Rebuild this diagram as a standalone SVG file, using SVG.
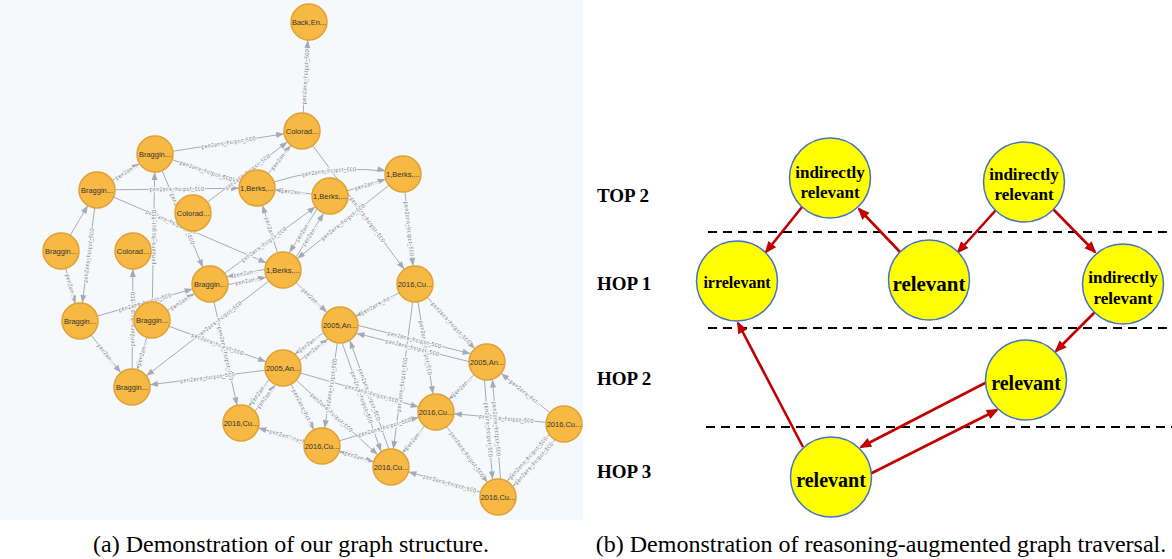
<svg xmlns="http://www.w3.org/2000/svg" xmlns:xlink="http://www.w3.org/1999/xlink" width="1172" height="559" viewBox="0 0 1172 559">
<style>
.bg{fill:#f6f9fb}
.gn circle{fill:#f7b944;stroke:#dfa135;stroke-width:1.5}
.gn text{font-family:"Liberation Sans",Arial,sans-serif;font-size:7.5px;fill:#333;text-anchor:middle}
.ge path{fill:none;stroke:#a5abb6;stroke-width:1}
.ge text{font-family:"Liberation Sans",Arial,sans-serif;font-size:5.8px;fill:#7a7a7a;stroke:#f6f9fb;stroke-width:2.2px;paint-order:stroke;stroke-linejoin:round}
.rn ellipse{fill:#ffff00;stroke:#4472c4;stroke-width:1.5}
.rn text{font-family:"Liberation Serif","Times New Roman",serif;font-weight:bold;fill:#000;text-anchor:middle}
.re path{fill:none;stroke:#c00000;stroke-width:2.6}
.dash{stroke:#000;stroke-width:2;stroke-dasharray:9,6}
.lvl{font-family:"Liberation Serif","Times New Roman",serif;font-weight:bold;font-size:19px;fill:#000}
.cap{font-family:"Liberation Serif","Times New Roman",serif;font-size:24px;fill:#000;text-anchor:middle}
</style>
<defs>
<marker id="ga" markerUnits="userSpaceOnUse" markerWidth="40" markerHeight="10" refX="26" refY="3" orient="auto-start-reverse" overflow="visible"><path d="M0,0 L8,3 L0,6 z" fill="#a5abb6"/></marker>
<marker id="ra" markerUnits="userSpaceOnUse" markerWidth="14" markerHeight="10" refX="10" refY="5" orient="auto" overflow="visible"><path d="M0,0 L12,5 L0,10 z" fill="#c00000"/></marker>
</defs>
<rect class="bg" x="0" y="0" width="583" height="520"/>
<g id="graph-edges" class="ge">
<path id="e1" d="M302,131 L309,22" marker-end="url(#ga)"/>
<path id="e2" d="M155,154 L302,131" marker-end="url(#ga)"/>
<path id="e3" d="M257,188 L302,131" marker-end="url(#ga)"/>
<path id="e4" d="M193,213 L302,131" marker-end="url(#ga)"/>
<path id="e5" d="M302,131 L415,284" marker-end="url(#ga)"/>
<path id="e6" d="M257,188 Q330,160 403,174" marker-end="url(#ga)"/>
<path id="e7" d="M257,188 L330,196" marker-start="url(#ga)"/>
<path id="e8" d="M330,196 L403,174" marker-end="url(#ga)"/>
<path id="e9" d="M403,174 L415,284" marker-end="url(#ga)"/>
<path id="e10" d="M283,270 L403,174" marker-start="url(#ga)"/>
<path id="e11a" d="M286.4,272.1 L333.4,198.1" marker-end="url(#ga)"/>
<path id="e11b" d="M279.6,267.9 L326.6,193.9" marker-start="url(#ga)"/>
<path id="e12" d="M257,188 L283,270" marker-start="url(#ga)"/>
<path id="e13" d="M97,190 L257,188" marker-end="url(#ga)"/>
<path id="e14" d="M97,190 L155,154" marker-end="url(#ga)"/>
<path id="e15" d="M155,154 L257,188" marker-end="url(#ga)"/>
<path id="e16" d="M155,154 L210,284" marker-end="url(#ga)"/>
<path id="e17" d="M97,190 L283,270" marker-end="url(#ga)"/>
<path id="e18" d="M80,321 L97,190" marker-start="url(#ga)"/>
<path id="e19" d="M61,251 L80,321" marker-end="url(#ga)"/>
<path id="e20" d="M132,387 L133,251" marker-end="url(#ga)"/>
<path id="e21" d="M132,387 L152,320" marker-start="url(#ga)"/>
<path id="e22" d="M80,321 L210,284" marker-end="url(#ga)"/>
<path id="e23" d="M80,321 L132,387" marker-end="url(#ga)"/>
<path id="e24a" d="M210.8,287.9 L283.8,273.9" marker-end="url(#ga)"/>
<path id="e24b" d="M209.2,280.1 L282.2,266.1" marker-start="url(#ga)"/>
<path id="e25" d="M283,270 L340,325" marker-end="url(#ga)"/>
<path id="e26" d="M132,387 L283,270" marker-start="url(#ga)"/>
<path id="e27" d="M152,320 L283,368" marker-end="url(#ga)"/>
<path id="e28" d="M210,284 L241,423" marker-end="url(#ga)"/>
<path id="e29" d="M132,387 L283,368" marker-start="url(#ga)"/>
<path id="e30" d="M340,325 L415,284" marker-start="url(#ga)"/>
<path id="e31" d="M415,284 L487,362" marker-end="url(#ga)"/>
<path id="e32" d="M391,467 L415,284" marker-start="url(#ga)"/>
<path id="e33" d="M415,284 L436,412" marker-end="url(#ga)"/>
<path id="e34a" d="M339,328.9 L486,365.9" marker-start="url(#ga)"/>
<path id="e34b" d="M341,321.1 L488,358.1" marker-end="url(#ga)"/>
<path id="e35a" d="M285.4,371.2 L342.4,328.2" marker-end="url(#ga)"/>
<path id="e35b" d="M280.6,364.8 L337.6,321.8" marker-start="url(#ga)"/>
<path id="e36" d="M322,446 L340,325" marker-start="url(#ga)"/>
<path id="e37a" d="M336.2,326.4 L387.2,468.4" marker-end="url(#ga)"/>
<path id="e37b" d="M343.8,323.6 L394.8,465.6" marker-start="url(#ga)"/>
<path id="e39a" d="M244.2,425.4 L286.2,370.4" marker-end="url(#ga)"/>
<path id="e39b" d="M237.8,420.6 L279.8,365.6" marker-start="url(#ga)"/>
<path id="e40" d="M283,368 L322,446" marker-end="url(#ga)"/>
<path id="e41" d="M283,368 L436,412" marker-end="url(#ga)"/>
<path id="e42" d="M283,368 L391,467" marker-end="url(#ga)"/>
<path id="e43" d="M241,423 L391,467" marker-end="url(#ga)"/>
<path id="e44" d="M241,423 L322,446" marker-start="url(#ga)"/>
<path id="e45" d="M322,446 L436,412" marker-end="url(#ga)"/>
<path id="e46" d="M322,446 L391,467" marker-start="url(#ga)"/>
<path id="e47" d="M391,467 L436,412" marker-start="url(#ga)"/>
<path id="e48" d="M436,412 L487,362" marker-start="url(#ga)"/>
<path id="e49" d="M436,412 L564,424" marker-start="url(#ga)"/>
<path id="e50" d="M487,362 L564,424" marker-start="url(#ga)"/>
<path id="e51a" d="M483,362.3 L494,497.3" marker-end="url(#ga)"/>
<path id="e51b" d="M491,361.7 L502,496.7" marker-start="url(#ga)"/>
<path id="e52" d="M436,412 L498,497" marker-end="url(#ga)"/>
<path id="e53a" d="M500.9,499.7 L566.9,426.7" marker-start="url(#ga)"/>
<path id="e53b" d="M495.1,494.3 L561.1,421.3" marker-start="url(#ga)"/>
<path id="e54" d="M391,467 L498,497" marker-start="url(#ga)"/>
<path id="e55" d="M61,251 L97,190" marker-end="url(#ga)"/>
<path id="e56" d="M152,320 L155,154" marker-end="url(#ga)"/>
<path id="e57" d="M152,320 L210,284" marker-end="url(#ga)"/>
<path id="e58" d="M210,284 L330,196" marker-end="url(#ga)"/>
<text dy="2"><textPath href="#e1" startOffset="50%" text-anchor="middle">pen2ans_hotpot_500</textPath></text>
<text dy="2"><textPath href="#e2" startOffset="50%" text-anchor="middle">pen2ans_hotpot_500</textPath></text>
<text dy="2"><textPath href="#e3" startOffset="50%" text-anchor="middle">pen2an...</textPath></text>
<text dy="2"><textPath href="#e4" startOffset="50%" text-anchor="middle">pen2ans_hotpot_500</textPath></text>
<text dy="2"><textPath href="#e5" startOffset="58%" text-anchor="middle">pen2ans_hotpot_500</textPath></text>
<text dy="2"><textPath href="#e6" startOffset="50%" text-anchor="middle">pen2ans_hotpot_500</textPath></text>
<text dy="2"><textPath href="#e7" startOffset="50%" text-anchor="middle">pen2an...</textPath></text>
<text dy="2"><textPath href="#e8" startOffset="50%" text-anchor="middle">pen2an...</textPath></text>
<text dy="2"><textPath href="#e9" startOffset="50%" text-anchor="middle">pen2ans_hotpot_500</textPath></text>
<text dy="2"><textPath href="#e10" startOffset="50%" text-anchor="middle">pen2ans_hotpot_500</textPath></text>
<text dy="2"><textPath href="#e11a" startOffset="50%" text-anchor="middle">pen2an...</textPath></text>
<text dy="2"><textPath href="#e11b" startOffset="50%" text-anchor="middle">pen2an...</textPath></text>
<text dy="2"><textPath href="#e12" startOffset="50%" text-anchor="middle">pen2an...</textPath></text>
<text dy="2"><textPath href="#e13" startOffset="50%" text-anchor="middle">pen2ans_hotpot_500</textPath></text>
<text dy="2"><textPath href="#e14" startOffset="50%" text-anchor="middle">pen2an...</textPath></text>
<text dy="2"><textPath href="#e15" startOffset="50%" text-anchor="middle">pen2ans_hotpot_500</textPath></text>
<text dy="2"><textPath href="#e16" startOffset="50%" text-anchor="middle">pen2ans_hotpot_500</textPath></text>
<text dy="2"><textPath href="#e17" startOffset="40%" text-anchor="middle">pen2ans_hotpot_500</textPath></text>
<text dy="2"><textPath href="#e18" startOffset="50%" text-anchor="middle">pen2ans_hotpot_500</textPath></text>
<text dy="2"><textPath href="#e19" startOffset="50%" text-anchor="middle">pen2an...</textPath></text>
<text dy="2"><textPath href="#e20" startOffset="50%" text-anchor="middle">pen2ans_hotpot_500</textPath></text>
<text dy="2"><textPath href="#e21" startOffset="50%" text-anchor="middle">pen2an...</textPath></text>
<text dy="2"><textPath href="#e22" startOffset="50%" text-anchor="middle">pen2ans_hotpot_500</textPath></text>
<text dy="2"><textPath href="#e23" startOffset="50%" text-anchor="middle">pen2an...</textPath></text>
<text dy="2"><textPath href="#e24a" startOffset="50%" text-anchor="middle">pen2an...</textPath></text>
<text dy="2"><textPath href="#e24b" startOffset="50%" text-anchor="middle">pen2an...</textPath></text>
<text dy="2"><textPath href="#e25" startOffset="50%" text-anchor="middle">pen2an...</textPath></text>
<text dy="2"><textPath href="#e26" startOffset="58%" text-anchor="middle">pen2ans_hotpot_500</textPath></text>
<text dy="2"><textPath href="#e27" startOffset="50%" text-anchor="middle">pen2ans_hotpot_500</textPath></text>
<text dy="2"><textPath href="#e28" startOffset="50%" text-anchor="middle">pen2ans_hotpot_500</textPath></text>
<text dy="2"><textPath href="#e29" startOffset="50%" text-anchor="middle">pen2ans_hotpot_500</textPath></text>
<text dy="2"><textPath href="#e30" startOffset="50%" text-anchor="middle">pen2ans_ho...</textPath></text>
<text dy="2"><textPath href="#e31" startOffset="50%" text-anchor="middle">pen2ans_hotpot_500</textPath></text>
<text dy="2"><textPath href="#e32" startOffset="45%" text-anchor="middle">pen2ans_hotpot_500</textPath></text>
<text dy="2"><textPath href="#e33" startOffset="50%" text-anchor="middle">pen2ans_hotpot_500</textPath></text>
<text dy="2"><textPath href="#e34a" startOffset="50%" text-anchor="middle">pen2ans_hotpot_500</textPath></text>
<text dy="2"><textPath href="#e34b" startOffset="50%" text-anchor="middle">pen2ans_hotpot_500</textPath></text>
<text dy="2"><textPath href="#e35a" startOffset="50%" text-anchor="middle">pen2an...</textPath></text>
<text dy="2"><textPath href="#e35b" startOffset="50%" text-anchor="middle">pen2an...</textPath></text>
<text dy="2"><textPath href="#e36" startOffset="50%" text-anchor="middle">pen2ans_hotpot_500</textPath></text>
<text dy="2"><textPath href="#e37a" startOffset="50%" text-anchor="middle">pen2ans_hotpot_500</textPath></text>
<text dy="2"><textPath href="#e37b" startOffset="50%" text-anchor="middle">pen2ans_hotpot_500</textPath></text>
<text dy="2"><textPath href="#e39a" startOffset="50%" text-anchor="middle">pen2an...</textPath></text>
<text dy="2"><textPath href="#e39b" startOffset="50%" text-anchor="middle">pen2an...</textPath></text>
<text dy="2"><textPath href="#e40" startOffset="50%" text-anchor="middle">pen2ans_hot...</textPath></text>
<text dy="2"><textPath href="#e41" startOffset="58%" text-anchor="middle">pen2ans_hotpot_500</textPath></text>
<text dy="2"><textPath href="#e42" startOffset="45%" text-anchor="middle">pen2ans_hotpot_500</textPath></text>
<text dy="2"><textPath href="#e43" startOffset="42%" text-anchor="middle">pen2ans_hotpot_500</textPath></text>
<text dy="2"><textPath href="#e44" startOffset="50%" text-anchor="middle">pen2an...</textPath></text>
<text dy="2"><textPath href="#e45" startOffset="55%" text-anchor="middle">pen2ans_hotpot_500</textPath></text>
<text dy="2"><textPath href="#e46" startOffset="50%" text-anchor="middle">pen2an...</textPath></text>
<text dy="2"><textPath href="#e47" startOffset="50%" text-anchor="middle">pen2an...</textPath></text>
<text dy="2"><textPath href="#e48" startOffset="50%" text-anchor="middle">pen2an...</textPath></text>
<text dy="2"><textPath href="#e49" startOffset="55%" text-anchor="middle">pen2ans_hotpot_500</textPath></text>
<text dy="2"><textPath href="#e50" startOffset="50%" text-anchor="middle">pen2ans_hot...</textPath></text>
<text dy="2"><textPath href="#e51a" startOffset="50%" text-anchor="middle">pen2ans_hotpot_500</textPath></text>
<text dy="2"><textPath href="#e51b" startOffset="50%" text-anchor="middle">pen2ans_hotpot_500</textPath></text>
<text dy="2"><textPath href="#e52" startOffset="50%" text-anchor="middle">pen2ans_hotpot_500</textPath></text>
<text dy="2"><textPath href="#e53a" startOffset="50%" text-anchor="middle">pen2ans_hotpot_500</textPath></text>
<text dy="2"><textPath href="#e53b" startOffset="50%" text-anchor="middle">pen2ans_hotpot_500</textPath></text>
<text dy="2"><textPath href="#e54" startOffset="55%" text-anchor="middle">pen2ans_hotpot_500</textPath></text>
<text dy="2"><textPath href="#e56" startOffset="50%" text-anchor="middle">pen2ans_hotpot_500</textPath></text>
<text dy="2"><textPath href="#e57" startOffset="50%" text-anchor="middle">pen2an...</textPath></text>
<text dy="2"><textPath href="#e58" startOffset="45%" text-anchor="middle">pen2ans_hotpot_500</textPath></text>
</g>
<g class="gn">
<g id="n1"><circle cx="309" cy="22" r="18"/><text x="309" y="25">Back,En...</text></g>
<g id="n2"><circle cx="302" cy="131" r="18"/><text x="302" y="134">Colorad...</text></g>
<g id="n3"><circle cx="155" cy="154" r="18"/><text x="155" y="157">Braggin...</text></g>
<g id="n4"><circle cx="97" cy="190" r="18"/><text x="97" y="193">Braggin...</text></g>
<g id="n5"><circle cx="257" cy="188" r="18"/><text x="257" y="191">1,Berks,...</text></g>
<g id="n6"><circle cx="330" cy="196" r="18"/><text x="330" y="199">1,Berks,...</text></g>
<g id="n7"><circle cx="403" cy="174" r="18"/><text x="403" y="177">1,Berks,...</text></g>
<g id="n8"><circle cx="193" cy="213" r="18"/><text x="193" y="216">Colorad...</text></g>
<g id="n9"><circle cx="61" cy="251" r="18"/><text x="61" y="254">Braggin...</text></g>
<g id="n10"><circle cx="133" cy="251" r="18"/><text x="133" y="254">Colorad...</text></g>
<g id="n11"><circle cx="210" cy="284" r="18"/><text x="210" y="287">Braggin...</text></g>
<g id="n12"><circle cx="283" cy="270" r="18"/><text x="283" y="273">1,Berks,...</text></g>
<g id="n13"><circle cx="415" cy="284" r="18"/><text x="415" y="287">2016,Cu...</text></g>
<g id="n14"><circle cx="80" cy="321" r="18"/><text x="80" y="324">Braggin...</text></g>
<g id="n15"><circle cx="152" cy="320" r="18"/><text x="152" y="323">Braggin...</text></g>
<g id="n16"><circle cx="340" cy="325" r="18"/><text x="340" y="328">2005,An...</text></g>
<g id="n17"><circle cx="283" cy="368" r="18"/><text x="283" y="371">2005,An...</text></g>
<g id="n18"><circle cx="487" cy="362" r="18"/><text x="487" y="365">2005,An...</text></g>
<g id="n19"><circle cx="132" cy="387" r="18"/><text x="132" y="390">Braggin...</text></g>
<g id="n20"><circle cx="241" cy="423" r="18"/><text x="241" y="426">2016,Cu...</text></g>
<g id="n21"><circle cx="436" cy="412" r="18"/><text x="436" y="415">2016,Cu...</text></g>
<g id="n22"><circle cx="322" cy="446" r="18"/><text x="322" y="449">2016,Cu...</text></g>
<g id="n23"><circle cx="564" cy="424" r="18"/><text x="564" y="427">2016,Cu...</text></g>
<g id="n24"><circle cx="391" cy="467" r="18"/><text x="391" y="470">2016,Cu...</text></g>
<g id="n25"><circle cx="498" cy="497" r="18"/><text x="498" y="500">2016,Cu...</text></g>
</g>
<g id="levels">
<line class="dash" x1="708" y1="232" x2="1172" y2="232"/>
<line class="dash" x1="708" y1="328" x2="1172" y2="328"/>
<line class="dash" x1="706" y1="427" x2="1172" y2="427"/>
<text class="lvl" x="597" y="202">TOP 2</text>
<text class="lvl" x="597" y="290">HOP 1</text>
<text class="lvl" x="597" y="385">HOP 2</text>
<text class="lvl" x="597" y="478">HOP 3</text>
</g>
<g id="traversal-edges" class="re">
<path d="M802,207 L766,252" marker-end="url(#ra)"/>
<path d="M900,252 L859,209" marker-end="url(#ra)"/>
<path d="M996,210 L958,252" marker-end="url(#ra)"/>
<path d="M1053,209 L1095,252" marker-end="url(#ra)"/>
<path d="M1095,312 L1056,351" marker-end="url(#ra)"/>
<path d="M989,381 L861,447" marker-end="url(#ra)"/>
<path d="M870,474 L997,410" marker-end="url(#ra)"/>
<path d="M803,447 L738,323" marker-end="url(#ra)"/>
</g>
<g class="rn">
<g id="r1"><ellipse cx="830" cy="178" rx="40.5" ry="40"/><text x="830" y="178" font-size="17">indirectly</text><text x="830" y="198" font-size="17">relevant</text></g>
<g id="r2"><ellipse cx="1024" cy="182" rx="40.5" ry="40"/><text x="1024" y="180" font-size="17">indirectly</text><text x="1024" y="200" font-size="17">relevant</text></g>
<g id="r3"><ellipse cx="737" cy="281" rx="40.5" ry="40"/><text x="737" y="288" font-size="16">irrelevant</text></g>
<g id="r4"><ellipse cx="929" cy="280" rx="40.5" ry="40"/><text x="929" y="291" font-size="21">relevant</text></g>
<g id="r5"><ellipse cx="1123" cy="284" rx="40.5" ry="40"/><text x="1123" y="283" font-size="17">indirectly</text><text x="1123" y="304" font-size="17">relevant</text></g>
<g id="r6"><ellipse cx="1026" cy="380" rx="40.5" ry="40"/><text x="1026" y="390" font-size="20">relevant</text></g>
<g id="r7"><ellipse cx="831" cy="477" rx="40.5" ry="40"/><text x="831" y="487" font-size="20">relevant</text></g>
</g>
<text class="cap" x="291" y="552">(a)  Demonstration of our graph structure.</text>
<text class="cap" x="881" y="552">(b)  Demonstration of reasoning-augmented graph traversal.</text>
</svg>
